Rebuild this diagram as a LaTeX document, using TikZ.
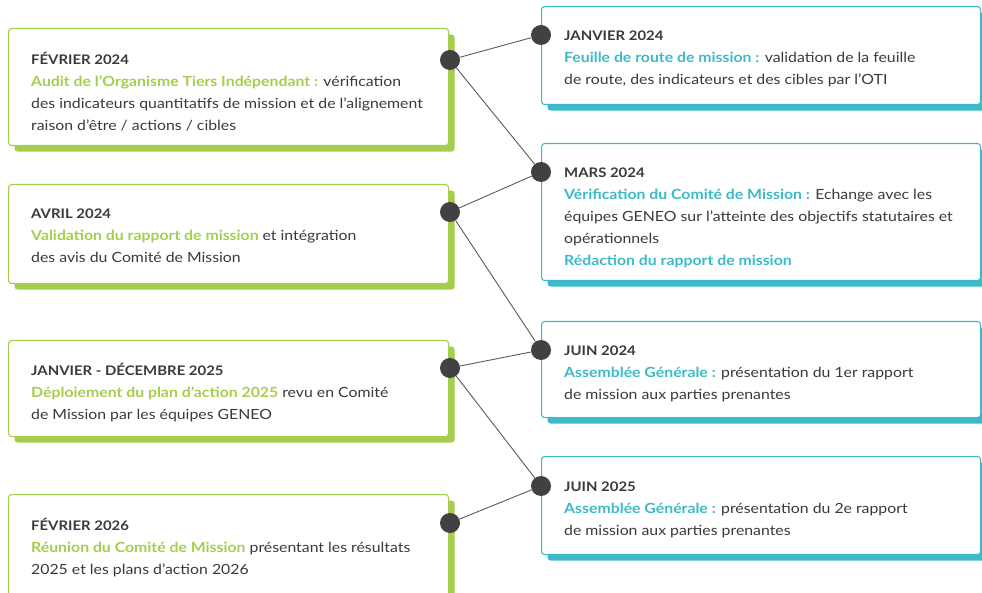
\documentclass[tikz,border=0pt]{standalone}
\usepackage{fontspec}
\setmainfont{Lato}[FakeStretch=1.13]
\usetikzlibrary{shadows}
\definecolor{grn}{HTML}{A6CE4E}
\definecolor{tel}{HTML}{3CBAC8}
\definecolor{ink}{HTML}{3A3A3A}
\definecolor{dotc}{HTML}{414141}
\definecolor{linec}{HTML}{5A5A5A}
\tikzset{
  gbox/.style={draw=grn, line width=1.1pt, fill=white, rounded corners=3pt, inner sep=0pt, anchor=north west,
    drop shadow={shadow xshift=6pt, shadow yshift=-6pt, fill=grn, opacity=1}},
  tbox/.style={draw=tel, line width=1.1pt, fill=white, rounded corners=3pt, inner sep=0pt, anchor=north west,
    drop shadow={shadow xshift=6pt, shadow yshift=-6pt, fill=tel, opacity=1}},
  txt/.style={anchor=north west, align=left, inner sep=0pt, text=ink, font=\fontsize{14pt}{22pt}\selectfont,
    execute at begin node=\strut},
  dot/.style={circle, fill=dotc, minimum size=20pt, inner sep=0pt},
  link/.style={draw=linec, line width=0.9pt},
}
\newcommand{\ghl}[1]{\textcolor{grn}{\textbf{#1}}}
\newcommand{\thl}[1]{\textcolor{tel}{\textbf{#1}}}
\newcommand{\ttl}[1]{{\fontsize{13.2pt}{22pt}\selectfont\textbf{#1}}}
\begin{document}
\begin{tikzpicture}[x=1pt,y=-1pt]
\useasboundingbox (0,0) rectangle (982,593);
\fill[white] (0,0) rectangle (982,593);
% left boxes
\node[gbox, minimum width=440pt, minimum height=117pt] (b1) at (8,28) {};
\node[gbox, minimum width=440pt, minimum height=99pt] (b2) at (8,184) {};
\node[gbox, minimum width=440pt, minimum height=96pt] (b3) at (8,340) {};
\node[gbox, minimum width=440pt, minimum height=110pt] (b4) at (8,494) {};
% right boxes
\node[tbox, minimum width=439pt, minimum height=98pt] (r1) at (541,6) {};
\node[tbox, minimum width=439pt, minimum height=137pt] (r2) at (541,143) {};
\node[tbox, minimum width=439pt, minimum height=96pt] (r3) at (541,321) {};
\node[tbox, minimum width=439pt, minimum height=98pt] (r4) at (541,456) {};
% dots
\node[dot] (l1) at (450,60) {};
\node[dot] (l2) at (450,212) {};
\node[dot] (l3) at (450,368) {};
\node[dot] (l4) at (450,523) {};
\node[dot] (d1) at (541,35) {};
\node[dot] (d2) at (541,172) {};
\node[dot] (d3) at (541,350) {};
\node[dot] (d4) at (541,486) {};
% links
\draw[link] (l1) -- (d1);
\draw[link] (l1) -- (d2);
\draw[link] (l2) -- (d2);
\draw[link] (l2) -- (d3);
\draw[link] (l3) -- (d3);
\draw[link] (l3) -- (d4);
\draw[link] (l4) -- (d4);
% texts
\node[txt] (t1) at (31,52) {\ttl{FÉVRIER 2024}\\
\ghl{Audit de l’Organisme Tiers Indépendant :} vérification\\
des indicateurs quantitatifs de mission et de l’alignement\\
raison d’être / actions / cibles};
\node[txt] (t2) at (31,208.6) {\ttl{AVRIL 2024}\\
\ghl{Validation du rapport de mission} et intégration\\
des avis du Comité de Mission};
\node[txt] (t3) at (31,363) {\ttl{JANVIER - DÉCEMBRE 2025}\\
\ghl{Déploiement du plan d’action 2025} revu en Comité\\
de Mission par les équipes GENEO};
\node[txt] (t4) at (31,517.6) {\ttl{FÉVRIER 2026}\\
\ghl{Réunion du Comité de Mission} présentant les résultats\\
2025 et les plans d’action 2026};
\node[txt] (s1) at (564,31) {\ttl{JANVIER 2024}\\
\thl{Feuille de route de mission :} validation de la feuille\\
de route, des indicateurs et des cibles par l’OTI};
\node[txt] (s2) at (564,168) {\ttl{MARS 2024}\\
\thl{Vérification du Comité de Mission :} Echange avec les\\
équipes GENEO sur l’atteinte des objectifs statutaires et\\
opérationnels\\
\thl{Rédaction du rapport de mission}};
\node[txt] (s3) at (564,346) {\ttl{JUIN 2024}\\
\thl{Assemblée Générale :} présentation du 1er rapport\\
de mission aux parties prenantes};
\node[txt] (s4) at (564,482) {\ttl{JUIN 2025}\\
\thl{Assemblée Générale :} présentation du 2e rapport\\
de mission aux parties prenantes};
\end{tikzpicture}
\end{document}
